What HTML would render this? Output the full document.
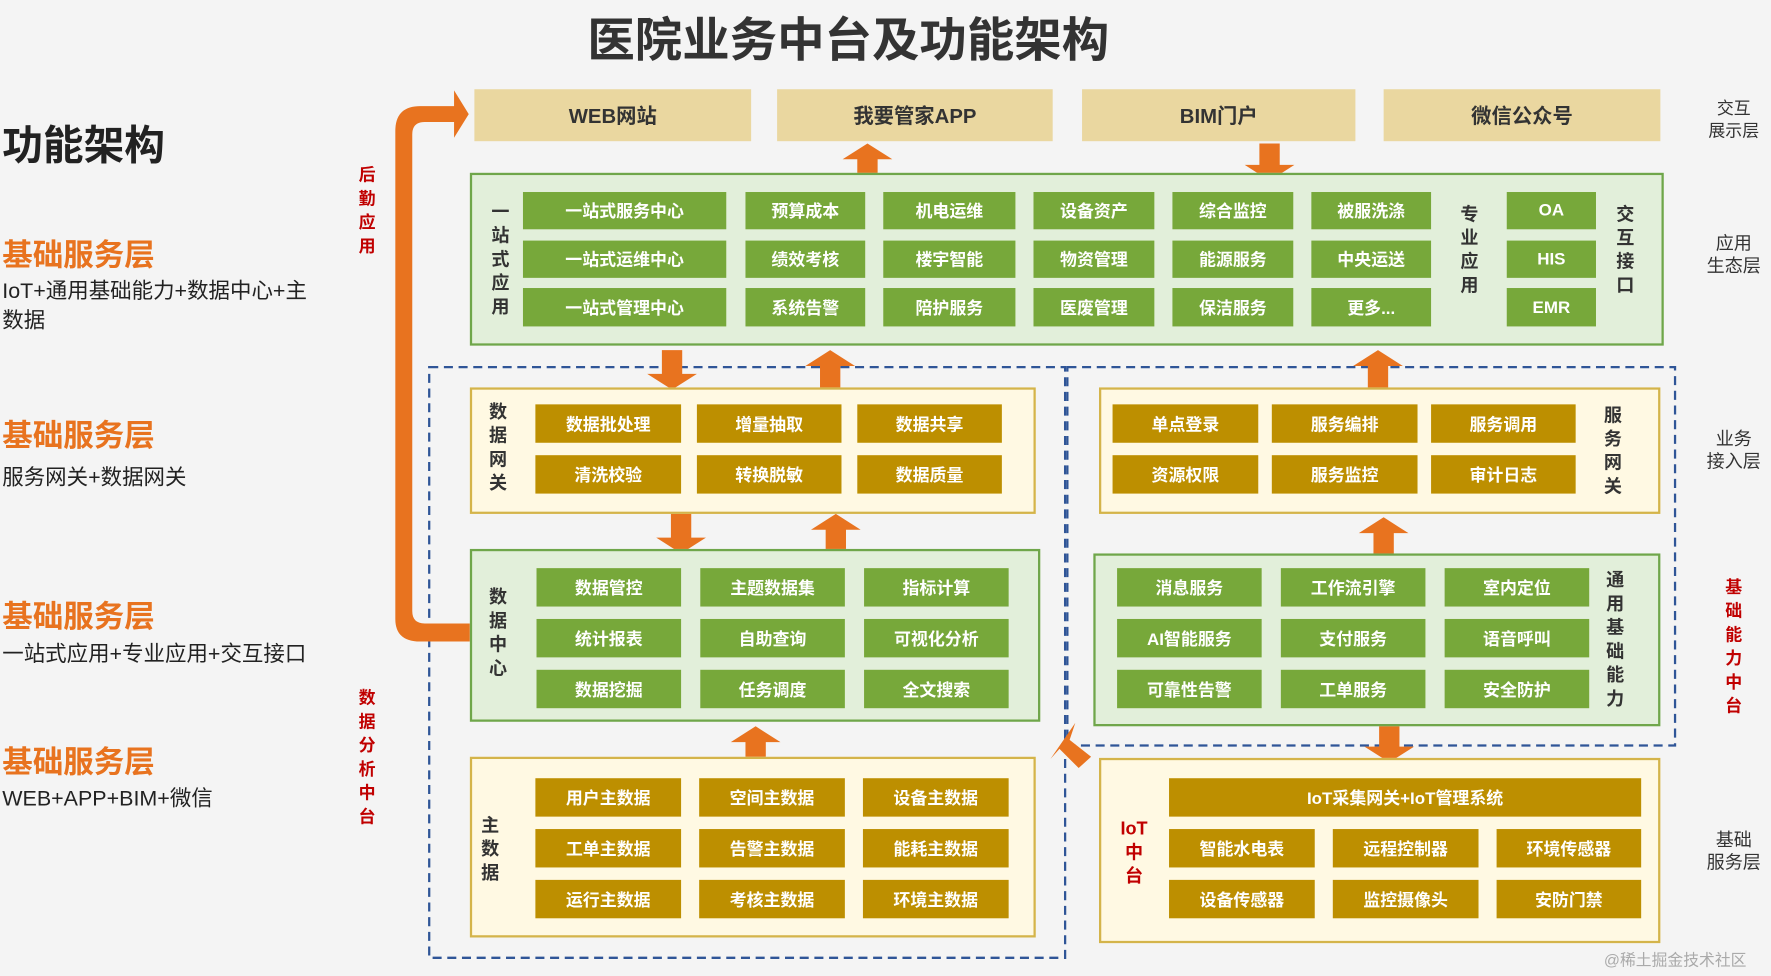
<!DOCTYPE html>
<html><head><meta charset="utf-8"><style>
body{margin:0;background:#f4f4f4;width:1771px;height:976px;overflow:hidden}
#w{position:absolute;left:0;top:0;width:1568px;height:864px;transform:scale(1.1295);transform-origin:0 0;font-family:"Liberation Sans","Noto Sans CJK SC",sans-serif}
.a{position:absolute}
.b{position:absolute;display:flex;align-items:center;justify-content:center;color:#fff;font-size:15px;font-weight:bold}
.g{background:#77a83a}.y{background:#bd8f00}
.v{position:absolute;width:20px;text-align:center;font-size:16px;font-weight:bold;color:#333;line-height:21px}
.top{position:absolute;top:79px;height:46px;background:#ead7a0;display:flex;align-items:center;justify-content:center;font-size:18px;font-weight:bold;color:#333}
.or{color:#e8731f;font-size:27px;font-weight:bold;left:2px}
.lt{font-size:19px;color:#222;left:2px;line-height:26px;width:270px}
.red{color:#c00000}
.rl{position:absolute;left:1505px;width:60px;text-align:center;font-size:15px;color:#333;line-height:20px}
.gb{background:#e2efda;border:2px solid #6fa64a;box-sizing:border-box}
.yb{background:#fff9e3;border:2px solid #d4b44a;box-sizing:border-box}
</style></head><body><div id="w">
<div class="a" style="left:520px;top:2px;font-size:42px;font-weight:bold;color:#333">医院业务中台及功能架构</div>
<div class="a" style="left:2px;top:100px;font-size:36px;font-weight:bold;color:#222">功能架构</div>
<div class="a or" style="top:204px">基础服务层</div>
<div class="a lt" style="top:246px">IoT+通用基础能力+数据中心+主数据</div>
<div class="a or" style="top:364px">基础服务层</div>
<div class="a lt" style="top:411px">服务网关+数据网关</div>
<div class="a or" style="top:524px">基础服务层</div>
<div class="a lt" style="top:567px">一站式应用+专业应用+交互接口</div>
<div class="a or" style="top:653px">基础服务层</div>
<div class="a lt" style="top:695px">WEB+APP+BIM+微信</div>

<div class="v red" style="left:315px;top:145px;font-size:15px">后勤应用</div>
<div class="v red" style="left:315px;top:608px;font-size:15px">数据分析中台</div>
<div class="v red" style="left:1525px;top:510px;font-size:15px">基础能力中台</div>
<div class="rl" style="top:87px">交互<br>展示层</div>
<div class="rl" style="top:207px;font-size:16px">应用<br>生态层</div>
<div class="rl" style="top:380px;font-size:16px">业务<br>接入层</div>
<div class="rl" style="top:735px;font-size:16px">基础<br>服务层</div>

<div class="top" style="left:420px;width:245px">WEB网站</div>
<div class="top" style="left:688px;width:244px">我要管家APP</div>
<div class="top" style="left:958px;width:242px">BIM门户</div>
<div class="top" style="left:1225px;width:245px">微信公众号</div>

<svg class="a" style="left:0;top:0" width="1568" height="864">
<g fill="none" stroke="#2f5597" stroke-width="2" stroke-dasharray="8,5">
<rect x="380" y="325" width="563" height="523"/>
<rect x="945" y="325" width="538" height="335"/>
</g>
<g fill="#e8731f">
<path d="M415,101 L402,80 L402,94 L372,94 Q350,94 350,116 L350,548 Q350,568 372,568 L416,568 L416,552 L376,552 Q365,552 365,541 L365,119 Q365,108 376,108 L402,108 L402,122 Z"/>
<polygon points="768,127 790,141 777,141 777,160 759,160 759,141 746,141"/>
<polygon points="1124,160 1146,146 1133,146 1133,127 1115,127 1115,146 1102,146"/>
<polygon points="595,345 617,331 604,331 604,310 586,310 586,331 573,331"/>
<polygon points="735,310 757,324 744,324 744,345 726,345 726,324 713,324"/>
<polygon points="1220,310 1242,324 1229,324 1229,345 1211,345 1211,324 1198,324"/>
<polygon points="603,490 625,476 612,476 612,455 594,455 594,476 581,476"/>
<polygon points="740,455 762,469 749,469 749,490 731,490 731,469 718,469"/>
<polygon points="1225,458 1247,472 1234,472 1234,493 1216,493 1216,472 1203,472"/>
<polygon points="669,643 691,657 678,657 678,680 660,680 660,657 647,657"/>
<polygon points="1230,675 1252,661 1239,661 1239,642 1221,642 1221,661 1208,661"/>
<polygon points="930,672 952,640 947,655 966,670 955,680 938,663"/>
</g>
</svg>

<div class="a gb" style="left:416px;top:153px;width:1057px;height:153px"></div>
<div class="v" style="left:433px;top:178px">一站式应用</div>
<div class="b g" style="left:463px;top:170px;width:180px;height:33px">一站式服务中心</div>
<div class="b g" style="left:463px;top:213px;width:180px;height:33px">一站式运维中心</div>
<div class="b g" style="left:463px;top:255px;width:180px;height:34px">一站式管理中心</div>
<div class="b g" style="left:660px;top:170px;width:106px;height:33px">预算成本</div>
<div class="b g" style="left:660px;top:213px;width:106px;height:33px">绩效考核</div>
<div class="b g" style="left:660px;top:255px;width:106px;height:34px">系统告警</div>
<div class="b g" style="left:782px;top:170px;width:117px;height:33px">机电运维</div>
<div class="b g" style="left:782px;top:213px;width:117px;height:33px">楼宇智能</div>
<div class="b g" style="left:782px;top:255px;width:117px;height:34px">陪护服务</div>
<div class="b g" style="left:915px;top:170px;width:107px;height:33px">设备资产</div>
<div class="b g" style="left:915px;top:213px;width:107px;height:33px">物资管理</div>
<div class="b g" style="left:915px;top:255px;width:107px;height:34px">医废管理</div>
<div class="b g" style="left:1038px;top:170px;width:107px;height:33px">综合监控</div>
<div class="b g" style="left:1038px;top:213px;width:107px;height:33px">能源服务</div>
<div class="b g" style="left:1038px;top:255px;width:107px;height:34px">保洁服务</div>
<div class="b g" style="left:1161px;top:170px;width:106px;height:33px">被服洗涤</div>
<div class="b g" style="left:1161px;top:213px;width:106px;height:33px">中央运送</div>
<div class="b g" style="left:1161px;top:255px;width:106px;height:34px">更多...</div>
<div class="v" style="left:1291px;top:180px">专业应用</div>
<div class="b g" style="left:1334px;top:170px;width:79px;height:33px">OA</div>
<div class="b g" style="left:1334px;top:213px;width:79px;height:33px">HIS</div>
<div class="b g" style="left:1334px;top:255px;width:79px;height:34px">EMR</div>
<div class="v" style="left:1429px;top:180px">交互接口</div>

<div class="a yb" style="left:416px;top:343px;width:501px;height:112px"></div>
<div class="v" style="left:431px;top:355px">数据网关</div>
<div class="b y" style="left:474px;top:358px;width:129px;height:34px">数据批处理</div>
<div class="b y" style="left:617px;top:358px;width:128px;height:34px">增量抽取</div>
<div class="b y" style="left:759px;top:358px;width:128px;height:34px">数据共享</div>
<div class="b y" style="left:474px;top:403px;width:129px;height:34px">清洗校验</div>
<div class="b y" style="left:617px;top:403px;width:128px;height:34px">转换脱敏</div>
<div class="b y" style="left:759px;top:403px;width:128px;height:34px">数据质量</div>

<div class="a gb" style="left:416px;top:486px;width:505px;height:153px"></div>
<div class="v" style="left:431px;top:519px">数据中心</div>
<div class="b g" style="left:475px;top:503px;width:128px;height:34px">数据管控</div>
<div class="b g" style="left:620px;top:503px;width:128px;height:34px">主题数据集</div>
<div class="b g" style="left:765px;top:503px;width:128px;height:34px">指标计算</div>
<div class="b g" style="left:475px;top:548px;width:128px;height:34px">统计报表</div>
<div class="b g" style="left:620px;top:548px;width:128px;height:34px">自助查询</div>
<div class="b g" style="left:765px;top:548px;width:128px;height:34px">可视化分析</div>
<div class="b g" style="left:475px;top:593px;width:128px;height:34px">数据挖掘</div>
<div class="b g" style="left:620px;top:593px;width:128px;height:34px">任务调度</div>
<div class="b g" style="left:765px;top:593px;width:128px;height:34px">全文搜索</div>

<div class="a yb" style="left:416px;top:670px;width:501px;height:160px"></div>
<div class="v" style="left:424px;top:721px">主数据</div>
<div class="b y" style="left:474px;top:689px;width:129px;height:34px">用户主数据</div>
<div class="b y" style="left:619px;top:689px;width:129px;height:34px">空间主数据</div>
<div class="b y" style="left:764px;top:689px;width:129px;height:34px">设备主数据</div>
<div class="b y" style="left:474px;top:734px;width:129px;height:34px">工单主数据</div>
<div class="b y" style="left:619px;top:734px;width:129px;height:34px">告警主数据</div>
<div class="b y" style="left:764px;top:734px;width:129px;height:34px">能耗主数据</div>
<div class="b y" style="left:474px;top:779px;width:129px;height:34px">运行主数据</div>
<div class="b y" style="left:619px;top:779px;width:129px;height:34px">考核主数据</div>
<div class="b y" style="left:764px;top:779px;width:129px;height:34px">环境主数据</div>

<div class="a yb" style="left:973px;top:343px;width:497px;height:112px"></div>
<div class="b y" style="left:985px;top:358px;width:129px;height:34px">单点登录</div>
<div class="b y" style="left:1126px;top:358px;width:129px;height:34px">服务编排</div>
<div class="b y" style="left:1267px;top:358px;width:128px;height:34px">服务调用</div>
<div class="b y" style="left:985px;top:403px;width:129px;height:34px">资源权限</div>
<div class="b y" style="left:1126px;top:403px;width:129px;height:34px">服务监控</div>
<div class="b y" style="left:1267px;top:403px;width:128px;height:34px">审计日志</div>
<div class="v" style="left:1418px;top:358px">服务网关</div>

<div class="a gb" style="left:968px;top:490px;width:502px;height:153px"></div>
<div class="b g" style="left:989px;top:503px;width:128px;height:34px">消息服务</div>
<div class="b g" style="left:1134px;top:503px;width:128px;height:34px">工作流引擎</div>
<div class="b g" style="left:1279px;top:503px;width:128px;height:34px">室内定位</div>
<div class="b g" style="left:989px;top:548px;width:128px;height:34px">AI智能服务</div>
<div class="b g" style="left:1134px;top:548px;width:128px;height:34px">支付服务</div>
<div class="b g" style="left:1279px;top:548px;width:128px;height:34px">语音呼叫</div>
<div class="b g" style="left:989px;top:593px;width:128px;height:34px">可靠性告警</div>
<div class="b g" style="left:1134px;top:593px;width:128px;height:34px">工单服务</div>
<div class="b g" style="left:1279px;top:593px;width:128px;height:34px">安全防护</div>
<div class="v" style="left:1420px;top:504px">通用基础能力</div>

<div class="a yb" style="left:973px;top:671px;width:497px;height:164px"></div>
<div class="v red" style="left:990px;top:724px;width:28px">IoT中台</div>
<div class="b y" style="left:1035px;top:689px;width:418px;height:34px">IoT采集网关+IoT管理系统</div>
<div class="b y" style="left:1035px;top:734px;width:129px;height:34px">智能水电表</div>
<div class="b y" style="left:1180px;top:734px;width:129px;height:34px">远程控制器</div>
<div class="b y" style="left:1325px;top:734px;width:128px;height:34px">环境传感器</div>
<div class="b y" style="left:1035px;top:779px;width:129px;height:34px">设备传感器</div>
<div class="b y" style="left:1180px;top:779px;width:129px;height:34px">监控摄像头</div>
<div class="b y" style="left:1325px;top:779px;width:128px;height:34px">安防门禁</div>
<div class="a" style="left:1420px;top:840px;font-size:14px;color:#aaa">@稀土掘金技术社区</div>
</div></body></html>
